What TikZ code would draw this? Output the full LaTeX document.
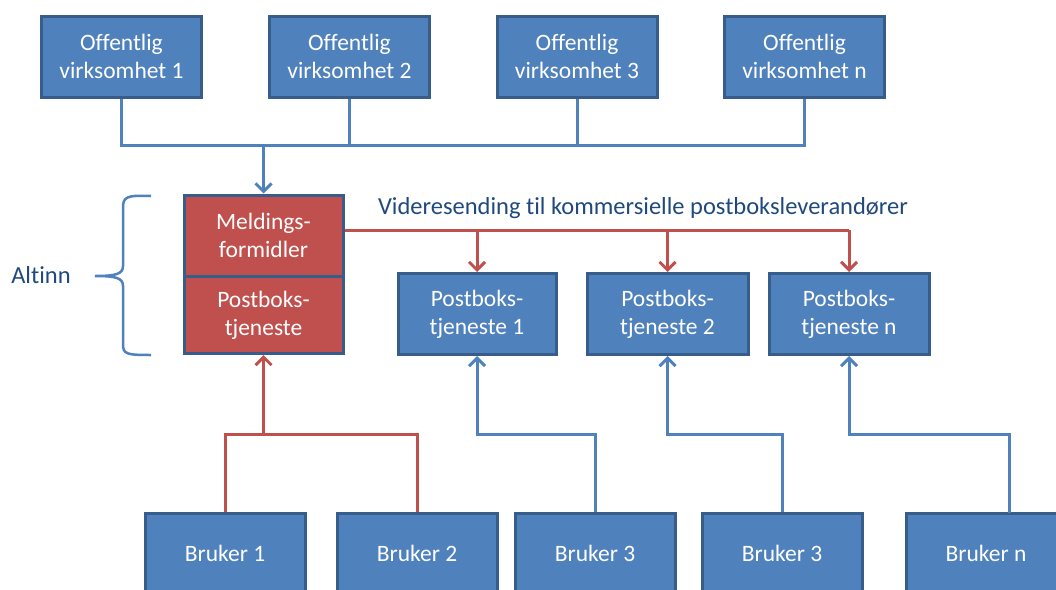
\documentclass[tikz,border=0pt]{standalone}
\usepackage{fontspec}
\setmainfont{Carlito}[Ligatures=NoCommon]
\usetikzlibrary{arrows.meta}
\definecolor{boxblue}{HTML}{4F81BD}
\definecolor{boxedge}{HTML}{385D8A}
\definecolor{boxred}{HTML}{C0504D}
\definecolor{textblue}{HTML}{1F497D}
\tikzset {>={Straight Barb[length=8pt,width=16pt]}}
\tikzset{
  box/.style={draw=boxedge, line width=3pt, fill=boxblue, text=white,
    align=center, inner sep=0pt, minimum width=160pt, minimum height=81pt,
    font=\fontsize{23.5}{28}\selectfont},
  redbox/.style={box, fill=boxred, minimum width=159pt},
  bluelink/.style={draw=boxblue, line width=3pt},
  redlink/.style={draw=boxred, line width=3pt},
  label/.style={text=textblue, font=\fontsize{24.5}{28}\selectfont}
}

\begin{document}
\begin{tikzpicture}[x=1pt,y=-1pt]
\useasboundingbox (0,0) rectangle (1056,589);
% senders
\foreach \i/\x/\n in {1/121.5/1,2/349.5/2,3/577/3,4/804.5/n}
  \node[box] (of\i) at (\x,56.5) {Offentlig\\virksomhet \n};
% Altinn
\node[redbox, minimum height=81pt] (mf) at (263.5,235.5) {Meldings-\\formidler};
\node[redbox, minimum height=77pt] (pt) at (263.5,315) {Postboks-\\tjeneste};
\draw[boxblue, line width=2.5pt]
  (151,196) .. controls (126,195) and (123,197) .. (123,208) -- (123,266)
  .. controls (123,274) and (116,276) .. (95,276)
  .. controls (116,276) and (123,278) .. (123,286) -- (123,344)
  .. controls (123,354) and (126,355) .. (151,355);
\node[label] (alt) at (41,275) {Altinn};
% commercial mailboxes
\node[box, minimum width=158pt] (pb1) at (477,314) {Postboks-\\tjeneste 1};
\node[box, minimum width=161pt] (pb2) at (667.5,314) {Postboks-\\tjeneste 2};
\node[box] (pbn) at (849,314) {Postboks-\\tjeneste n};
\node[label] (vs) at (643,208) {Videresending til kommersielle postboksleverandører};
% users
\foreach \i/\x/\n in {1/225/1,2/417/2,3/595/3,4/782/3,5/986/n}
  \node[box, minimum height=80pt] (br\i) at (\x,553) {Bruker \n};
\coordinate (jt) at (0,145);
\coordinate (rt) at (0,230);
\coordinate (jb) at (0,434);
\coordinate (brn) at (1009,513);
% top: senders to message broker
\draw[bluelink] (of1.south) -- (of1.south |- jt) -- (of4.south |- jt) -- (of4.south);
\draw[bluelink] (of2.south) -- (of2.south |- jt);
\draw[bluelink] (of3.south) -- (of3.south |- jt);
\draw[bluelink,->] (mf.north |- jt) -- (mf.north);
% forwarding
\draw[redlink] (mf.east |- rt) -- (pbn.north |- rt);
\foreach \p in {pb1,pb2,pbn}
  \draw[redlink,->] (\p.north |- rt) -- (\p.north);
% users to mailboxes
\draw[redlink] (br1.north) -- (br1.north |- jb) -- (br2.north |- jb) -- (br2.north);
\draw[redlink,->] (pt.south |- jb) -- (pt.south);
\draw[bluelink,->] (br3.north) |- (pb1.south |- jb) -- (pb1.south);
\draw[bluelink,->] (br4.north) |- (pb2.south |- jb) -- (pb2.south);
\draw[bluelink,->] (brn) |- (pbn.south |- jb) -- (pbn.south);
\end{tikzpicture}
\end{document}
